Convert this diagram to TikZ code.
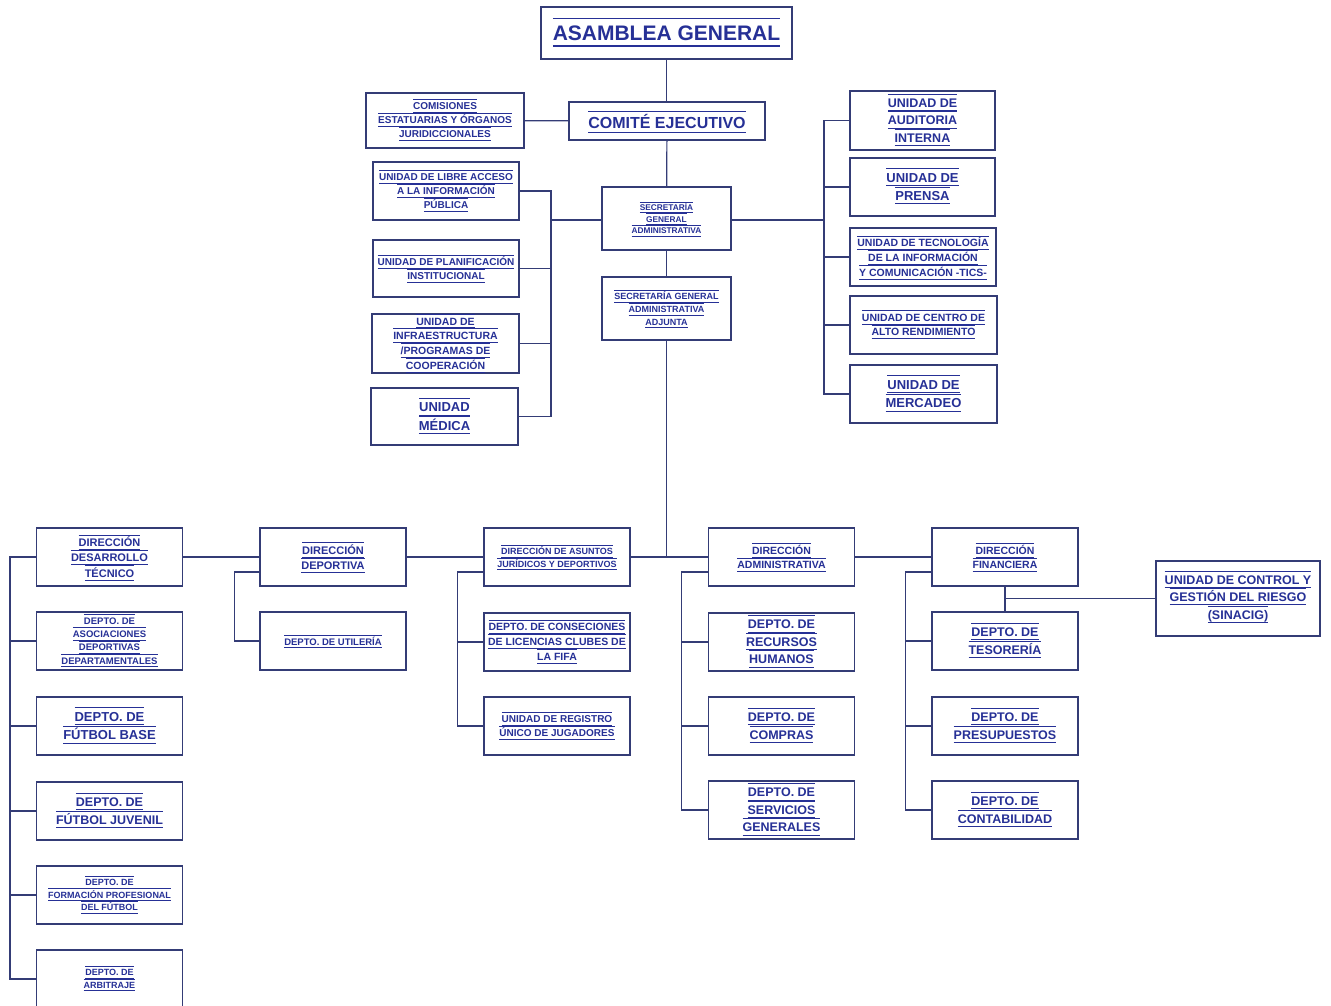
\documentclass[tikz,border=0pt]{standalone}
\usepackage{fontspec}
\setmainfont{Liberation Sans}
\definecolor{txtblue}{RGB}{38,48,150}
\definecolor{linblue}{RGB}{52,60,118}
% bold text size with line spacing
\newcommand{\fsz}[1]{\bfseries\fontsize{#1}{\fpeval{1.4*#1}pt}\selectfont}
% text line with a rule above and below
\newsavebox{\barbox}
\newcommand{\barred}[1]{\sbox{\barbox}{#1}\rlap{\smash{\rule[-0.3em]{\wd\barbox}{0.07em}}}\rlap{\smash{\rule[1.0em]{\wd\barbox}{0.07em}}}\usebox{\barbox}}
\begin{document}
\begin{tikzpicture}[x=1pt, y=-1pt,
    box/.style={draw=linblue, line width=1.4pt, fill=white, text=txtblue, align=center, inner sep=1pt, minimum width=146pt, minimum height=58pt},
    fs/.style={font=\fsz{#1}},
    link/.style={draw=linblue, line width=1.2pt}]
    \useasboundingbox (0,0) rectangle (1331,1006);
    % top of the chart
    \node[box, fs=21, minimum width=251pt, minimum height=52pt] (asam) at (666.5,33) {\barred{ASAMBLEA GENERAL}};
    \node[box, fs=16, minimum width=196pt, minimum height=38pt] (comite) at (667,121) {\barred{COMITÉ EJECUTIVO}};
    \node[box, fs=10, minimum width=158pt, minimum height=55pt] (comis) at (445,120.5) {\barred{COMISIONES}\\\barred{ESTATUARIAS Y ÓRGANOS}\\\barred{JURIDICCIONALES}};
    \node[box, fs=8.3, minimum width=129pt, minimum height=63pt] (sga) at (666.5,218.5) {\barred{SECRETARÍA}\\\barred{GENERAL}\\\barred{ADMINISTRATIVA}};
    \node[box, fs=9, minimum width=129pt, minimum height=63pt] (sgaa) at (666.5,308.5) {\barred{SECRETARÍA GENERAL}\\\barred{ADMINISTRATIVA}\\\barred{ADJUNTA}};
    % units left of the secretaria
    \node[box, fs=10] (libre) at (446,191) {\barred{UNIDAD DE LIBRE ACCESO}\\\barred{A LA INFORMACIÓN}\\\barred{PÚBLICA}};
    \node[box, fs=10, minimum height=57pt] (plan) at (446,268.5) {\barred{UNIDAD DE PLANIFICACIÓN}\\\barred{INSTITUCIONAL}};
    \node[box, fs=10.5, minimum width=147pt, minimum height=59pt] (infra) at (445.5,343.5) {\barred{UNIDAD DE}\\\barred{INFRAESTRUCTURA}\\\barred{/PROGRAMAS DE}\\\barred{COOPERACIÓN}};
    \node[box, fs=13, minimum width=147pt, minimum height=57pt] (medica) at (444.5,416.5) {\barred{UNIDAD}\\\barred{MÉDICA}};
    % units right of the secretaria
    \node[box, fs=12.5, minimum width=145pt, minimum height=59pt] (audit) at (922.5,120.5) {\barred{UNIDAD DE}\\\barred{AUDITORIA}\\\barred{INTERNA}};
    \node[box, fs=13, minimum width=145pt] (prensa) at (922.5,187) {\barred{UNIDAD DE}\\\barred{PRENSA}};
    \node[box, fs=10.5] (tics) at (923,257) {\barred{UNIDAD DE TECNOLOGÍA}\\\barred{DE LA INFORMACIÓN}\\\barred{Y COMUNICACIÓN -TICS-}};
    \node[box, fs=10.5, minimum width=147pt] (centro) at (923.5,325) {\barred{UNIDAD DE CENTRO DE}\\\barred{ALTO RENDIMIENTO}};
    \node[box, fs=13, minimum width=147pt] (merca) at (923.5,394) {\barred{UNIDAD DE}\\\barred{MERCADEO}};
    % direcciones
    \node[box, fs=11] (ddt) at (109.5,557) {\barred{DIRECCIÓN}\\\barred{DESARROLLO}\\\barred{TÉCNICO}};
    \node[box, fs=11] (ddep) at (333,557) {\barred{DIRECCIÓN}\\\barred{DEPORTIVA}};
    \node[box, fs=9] (djur) at (557,557) {\barred{DIRECCIÓN DE  ASUNTOS}\\\barred{JURÍDICOS Y DEPORTIVOS}};
    \node[box, fs=10.5] (dadm) at (781.5,557) {\barred{DIRECCIÓN}\\\barred{ADMINISTRATIVA}};
    \node[box, fs=10.5] (dfin) at (1005,557) {\barred{DIRECCIÓN}\\\barred{FINANCIERA}};
    % departamentos from top to down
    \node[box, fs=9.5] (asoc) at (109.5,641) {\barred{DEPTO. DE}\\\barred{ASOCIACIONES}\\\barred{DEPORTIVAS}\\\barred{DEPARTAMENTALES}};
    \node[box, fs=13] (fbase) at (109.5,726) {\barred{DEPTO. DE}\\\barred{FÚTBOL BASE}};
    \node[box, fs=12.5] (fjuv) at (109.5,811) {\barred{DEPTO. DE}\\\barred{FÚTBOL JUVENIL}};
    \node[box, fs=9] (fprof) at (109.5,895) {\barred{DEPTO. DE}\\\barred{FORMACIÓN PROFESIONAL}\\\barred{DEL FÚTBOL}};
    \node[box, fs=9] (arbit) at (109.5,979) {\barred{DEPTO. DE}\\\barred{ARBITRAJE}};
    \node[box, fs=9.5] (util) at (333,641) {\barred{DEPTO. DE UTILERÍA}};
    \node[box, fs=10.5] (consec) at (557,642) {\barred{DEPTO. DE CONSECIONES}\\\barred{DE LICENCIAS CLUBES DE}\\\barred{LA FIFA}};
    \node[box, fs=10] (regis) at (557,726) {\barred{UNIDAD DE REGISTRO}\\\barred{ÚNICO DE JUGADORES}};
    \node[box, fs=12.5] (rrhh) at (781.5,642) {\barred{DEPTO. DE}\\\barred{RECURSOS}\\\barred{HUMANOS}};
    \node[box, fs=12.5] (compras) at (781.5,726) {\barred{DEPTO. DE}\\\barred{COMPRAS}};
    \node[box, fs=12.5] (servic) at (781.5,810) {\barred{DEPTO. DE}\\\barred{SERVICIOS}\\\barred{GENERALES}};
    \node[box, fs=12.5] (tes) at (1005,641) {\barred{DEPTO. DE}\\\barred{TESORERÍA}};
    \node[box, fs=12.5] (presup) at (1005,726) {\barred{DEPTO. DE}\\\barred{PRESUPUESTOS}};
    \node[box, fs=12.5] (contab) at (1005,810) {\barred{DEPTO. DE}\\\barred{CONTABILIDAD}};
    \node[box, fs=12.5, minimum width=164pt, minimum height=75pt] (sinacig) at (1238,598.5) {\barred{UNIDAD DE CONTROL Y}\\\barred{GESTIÓN DEL RIESGO}\\\barred{(SINACIG)}};
    % main vertical line
    \draw[link] (asam.south) -- (asam.south |- comite.north);
    \draw[link] (comis) -- (comite);
    \draw[link] (comite) -- (sga);
    \draw[link] (sga) -- (sgaa);
    \draw[link] (sgaa.south) -- (sgaa.south |- djur.east);
    % buses beside the secretaria
    \coordinate (lbus) at (551,220);
    \coordinate (rbus) at (824,220);
    \draw[link] (sga.west |- lbus) -- (lbus);
    \draw[link] (libre.east) -- (libre.east -| lbus) -- (medica.east -| lbus) -- (medica.east);
    \foreach \n in {plan,infra} \draw[link] (\n.east) -- (\n.east -| lbus);
    \draw[link] (sga.east |- rbus) -- (rbus);
    \draw[link] (audit.west) -- (audit.west -| rbus) -- (merca.west -| rbus) -- (merca.west);
    \foreach \n in {prensa,tics,centro} \draw[link] (\n.west) -- (\n.west -| rbus);
    % horizontal line of the direcciones
    \draw[link] (ddt) -- (ddep);
    \draw[link] (ddep) -- (djur);
    \draw[link] (djur) -- (dadm);
    \draw[link] (dadm) -- (dfin);
    % vertical buses from left to right
    \coordinate (bdes) at (10,557);
    \draw[link] (ddt.west) -- (bdes) -- (bdes |- arbit.west) -- (arbit.west);
    \foreach \n in {asoc,fbase,fjuv,fprof} \draw[link] (\n.west) -- (\n.west -| bdes);
    \draw[link] ([yshift=-15pt]ddep.west) -- ++(-25,0) |- (util.west);
    \draw[link] ([yshift=-15pt]djur.west) -- ++(-26,0) |- (regis.west);
    \draw[link] (consec.west) -- ++(-26,0);
    \draw[link] ([yshift=-15pt]dadm.west) -- ++(-26,0) |- (servic.west);
    \foreach \n in {rrhh,compras} \draw[link] (\n.west) -- ++(-26,0);
    \draw[link] ([yshift=-15pt]dfin.west) -- ++(-26,0) |- (contab.west);
    \foreach \n in {tes,presup} \draw[link] (\n.west) -- ++(-26,0);
    \draw[link] (dfin) -- (tes);
    \draw[link] (dfin.south |- sinacig.west) -- (sinacig.west);
\end{tikzpicture}
\end{document}
